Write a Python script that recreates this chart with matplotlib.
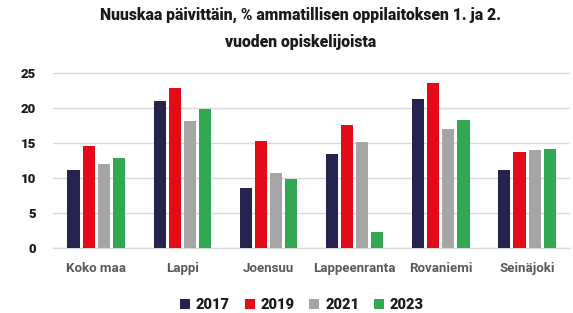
import matplotlib
matplotlib.use("Agg")
import matplotlib.pyplot as plt
import numpy as np

categories = ["Koko maa", "Lappi", "Joensuu", "Lappeenranta", "Rovaniemi", "Seinäjoki"]
years = ["2017", "2019", "2021", "2023"]
v2017 = [11.1, 21.0, 8.6, 13.4, 21.3, 11.2]
v2019 = [14.6, 22.8, 15.3, 17.5, 23.6, 13.7]
v2021 = [12.0, 18.1, 10.7, 15.2, 17.0, 14.0]
v2023 = [12.9, 19.9, 9.9, 2.3, 18.2, 14.2]
series = [v2017, v2019, v2021, v2023]
colors = ["#25244f", "#e30b17", "#a5a5a5", "#33a852"]
yticks = [0, 5, 10, 15, 20, 25]

plt.rcParams['font.family'] = ['Roboto', 'DejaVu Sans']
fig = plt.figure(figsize=(5.73, 3.13), dpi=100)
ax = fig.add_axes([0.0925, 0.2067, 0.9025, 0.5610 * 25.2 / 25])

x = np.arange(len(categories))
step = 0.175
width = 0.14
for i, (vals, c, yr) in enumerate(zip(series, colors, years)):
    ax.bar(x + (i - 1.5) * step, vals, width=width, color=c, label=yr, zorder=3)

ax.set_xlim(-0.5, len(categories) - 0.5)
ax.set_ylim(0, 25.2)
ax.set_yticks(yticks)
ax.set_yticklabels([str(t) for t in yticks], fontsize=9.5, fontweight='heavy', color='#1a1a1a')
ax.set_xticks(x)
ax.set_xticklabels(categories, fontsize=9.5, fontweight='bold', color='#595959')
ax.tick_params(axis='both', length=0)
ax.tick_params(axis='x', pad=10)
ax.tick_params(axis='y', pad=12)
ax.grid(axis='y', color='#d9d9d9', linewidth=1, zorder=0)
for s in ['top', 'right', 'left']:
    ax.spines[s].set_visible(False)
ax.spines['bottom'].set_color('#d9d9d9')
ax.spines['bottom'].set_linewidth(1)

fig.text(0.524, 0.952, "Nuuskaa päivittäin, % ammatillisen oppilaitoksen 1. ja 2.",
         ha='center', va='center', fontsize=11.3, fontweight='heavy', color='#1a1a1a')
fig.text(0.524, 0.866, "vuoden opiskelijoista",
         ha='center', va='center', fontsize=11.3, fontweight='heavy', color='#1a1a1a')

leg = fig.legend(loc='center', bbox_to_anchor=(0.527, 0.025), ncol=4, frameon=False,
                 handlelength=0.7, handleheight=0.7, handletextpad=0.4, columnspacing=1.0,
                 prop={'size': 10.5, 'weight': 'heavy'})
for t in leg.get_texts():
    t.set_color('#1a1a1a')

fig.savefig("out.png", dpi=100)
